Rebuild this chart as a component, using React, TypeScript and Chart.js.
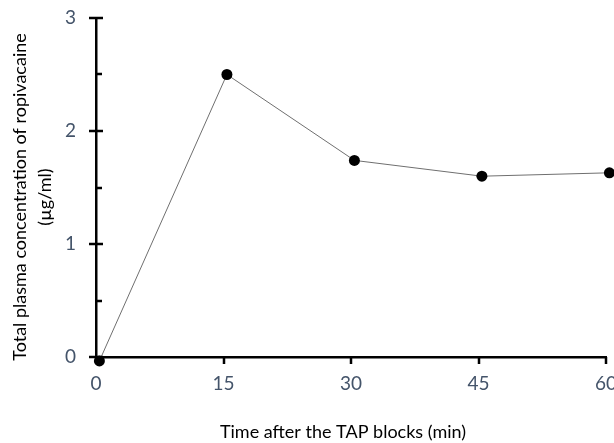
import React, { useEffect, useRef } from "react";
import { Chart, registerables } from "chart.js";

Chart.register(...registerables);

const timesMin = [0.4, 15.4, 30.4, 45.4, 60.4];
const concentration = [-0.035, 2.5, 1.74, 1.6, 1.63];
const xTicks = [0, 15, 30, 45, 60];
const yTicks = [0, 1, 2, 3];
const yMinorTicks = [0.5, 1.5, 2.5];
const xTitle = "Time after the TAP blocks (min)";
const yTitle = ["Total plasma concentration of ropivacaine", "(µg/ml)"];

const FONT = "Lato, 'Open Sans', sans-serif";

const tickMarks = {
  id: "tickMarks",
  afterDraw(chart: any) {
    const { ctx, chartArea } = chart;
    const xs = chart.scales.x;
    const ys = chart.scales.y;
    ctx.save();
    ctx.strokeStyle = "#000";
    ctx.lineWidth = 2.5;
    ctx.beginPath();
    yTicks.forEach((v) => {
      const py = Math.round(ys.getPixelForValue(v));
      ctx.moveTo(chartArea.left - 7, py);
      ctx.lineTo(chartArea.left + 7, py);
    });
    yMinorTicks.forEach((v) => {
      const py = Math.round(ys.getPixelForValue(v));
      ctx.moveTo(chartArea.left, py);
      ctx.lineTo(chartArea.left + 6, py);
    });
    xTicks.slice(1).forEach((v) => {
      const px = Math.round(xs.getPixelForValue(v));
      ctx.moveTo(px, chartArea.bottom);
      ctx.lineTo(px, chartArea.bottom + 7);
    });
    ctx.stroke();

    ctx.fillStyle = "#000";
    ctx.font = `18px ${FONT}`;
    ctx.textAlign = "center";
    ctx.textBaseline = "middle";
    // x-axis title
    ctx.fillText(xTitle, 343, 432);
    // y-axis title (two lines, rotated)
    ctx.translate(20, 197);
    ctx.rotate(-Math.PI / 2);
    yTitle.forEach((line, i) => {
      ctx.fillText(line, 0, i * 25);
    });
    ctx.restore();
  },
};

export default function App() {
  const ref = useRef<HTMLCanvasElement | null>(null);
  useEffect(() => {
    if (!ref.current) return;
    const chart = new Chart(ref.current, {
      type: "line",
      data: {
        datasets: [
          {
            data: timesMin.map((t, i) => ({ x: t, y: concentration[i] })),
            borderColor: "#6f6f6f",
            borderWidth: 1,
            pointRadius: 5.5,
            pointBackgroundColor: "#000",
            pointBorderColor: "#000",
            pointBorderWidth: 0,
            tension: 0,
            clip: false as any,
          },
        ],
      },
      options: {
        animation: false,
        responsive: false,
        maintainAspectRatio: false,
        layout: { padding: { left: 0, top: 18, right: 8, bottom: 0 } },
        plugins: { legend: { display: false }, tooltip: { enabled: false } },
        scales: {
          x: {
            type: "linear",
            min: 0,
            max: 60,
            afterBuildTicks: (s: any) => {
              s.ticks = xTicks.map((v) => ({ value: v }));
            },
            ticks: {
              color: "#44546a",
              font: { family: FONT, size: 19 },
              padding: 15,
              maxRotation: 0,
            },
            grid: { display: false, drawTicks: false },
            border: { display: true, color: "#000", width: 2.5 },
            title: { display: false },
            afterFit: (s: any) => {
              s.height = 86;
              s.paddingLeft = 0;
              s.paddingRight = 0;
            },
          },
          y: {
            type: "linear",
            min: 0,
            max: 3,
            afterBuildTicks: (s: any) => {
              s.ticks = yTicks.map((v) => ({ value: v }));
            },
            ticks: {
              color: "#44546a",
              font: { family: FONT, size: 19 },
              padding: 20,
            },
            grid: { display: false, drawTicks: false },
            border: { display: true, color: "#000", width: 2.5 },
            title: { display: false },
            afterFit: (s: any) => {
              s.width = 96;
              s.paddingTop = 0;
              s.paddingBottom = 0;
            },
          },
        },
      },
      plugins: [tickMarks],
    });
    return () => chart.destroy();
  }, []);
  return (
    <div style={{ position: "fixed", left: 0, top: 0, width: 614, height: 443, background: "#fff" }}>
      <canvas ref={ref} width={614} height={443} style={{ width: 614, height: 443 }} />
    </div>
  );
}
